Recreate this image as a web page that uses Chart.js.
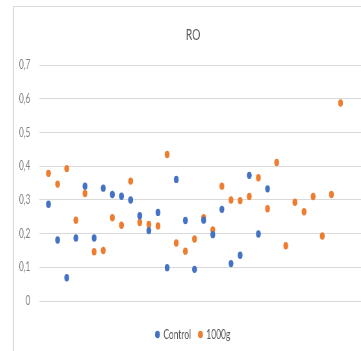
<!DOCTYPE html>
<html>
<head>
<meta charset="utf-8">
<script src="https://cdn.jsdelivr.net/npm/chart.js@4"></script>
<style>
  html, body { margin: 0; padding: 0; background: #fff; overflow: hidden; width: 361px; height: 351px; }
  #frame { position: absolute; left: 13px; top: 6px; width: 360px; height: 345px;
           border-left: 1px solid #d9d9d9; border-top: 1px solid #d9d9d9; }
  /* the chart is laid out wide and shown horizontally condensed */
  #wrap { position: absolute; left: 0; top: 0; width: 551px; height: 345px;
          transform: scaleX(0.65); transform-origin: 0 0; }
  #c { display: block; }
</style>
</head>
<body>
<div id="frame"><div id="wrap"><canvas id="c" width="551" height="345"></canvas></div></div>
<script>
// Sample numbers (x) and RO readings for each group
const controlX = [1,2,3,4,5,6,7,8,9,10,11,12,13,14,15,16,17,18,19,20,21,22,23,24,25];
const controlY = [0.287,0.181,0.069,0.187,0.341,0.187,0.335,0.316,0.311,0.300,0.253,0.209,0.263,0.099,0.361,0.239,0.094,0.240,0.197,0.272,0.111,0.136,0.373,0.199,0.333];
const groupX = [1,2,3,4,5,6,7,8,9,10,11,12,13,14,15,16,17,18,19,20,21,22,23,24,25,26,27,28,29,30,31,32,33];
const groupY = [0.379,0.347,0.393,0.240,0.319,0.146,0.150,0.247,0.225,0.356,0.233,0.227,0.223,0.435,0.172,0.148,0.184,0.247,0.211,0.341,0.300,0.298,0.310,0.366,0.274,0.411,0.164,0.293,0.265,0.310,0.193,0.316,0.588];
const yMin = 0, yMax = 0.7, yStep = 0.1;
const xMin = 0, xMax = 36.2;

const pts = (xs, ys) => xs.map((x, i) => ({ x: x, y: ys[i] }));
const FONT = "Lato, 'Liberation Sans', sans-serif";

new Chart(document.getElementById('c'), {
  type: 'scatter',
  data: {
    datasets: [
      { label: 'Control', data: pts(controlX, controlY), backgroundColor: '#4472C4', borderColor: '#4472C4', pointRadius: 3.7, pointHoverRadius: 3.7, borderWidth: 0 },
      { label: '1000g', data: pts(groupX, groupY), backgroundColor: '#ED7D31', borderColor: '#ED7D31', pointRadius: 3.7, pointHoverRadius: 3.7, borderWidth: 0 }
    ]
  },
  options: {
    responsive: false,
    animation: false,
    devicePixelRatio: 1,
    layout: { padding: { left: 0, right: 0, top: 0, bottom: 1 } },
    plugins: {
      title: { display: true, text: 'RO', color: '#595959', font: { family: FONT, size: 16, weight: 'normal' }, padding: { top: 18, bottom: 21 } },
      legend: {
        display: true, position: 'bottom',
        labels: { usePointStyle: true, pointStyle: 'circle', boxWidth: 5, boxHeight: 5.3, padding: 12, color: '#595959', font: { family: FONT, size: 13 } }
      },
      tooltip: { enabled: false }
    },
    scales: {
      x: {
        type: 'linear', min: xMin, max: xMax, display: true,
        ticks: { display: false }, grid: { display: false }, border: { display: false },
        afterFit: s => { s.height = 15; }
      },
      y: {
        min: yMin, max: yMax,
        afterFit: s => { s.width = 39; },
        border: { display: false },
        grid: { color: '#d9d9d9', lineWidth: 1, drawTicks: false },
        ticks: { stepSize: yStep, padding: 14, color: '#7f7f7f', font: { family: FONT, size: 12.5 },
                 callback: v => v === 0 ? '0' : v.toFixed(1).replace('.', ',') }
      }
    }
  }
});
</script>
</body>
</html>
